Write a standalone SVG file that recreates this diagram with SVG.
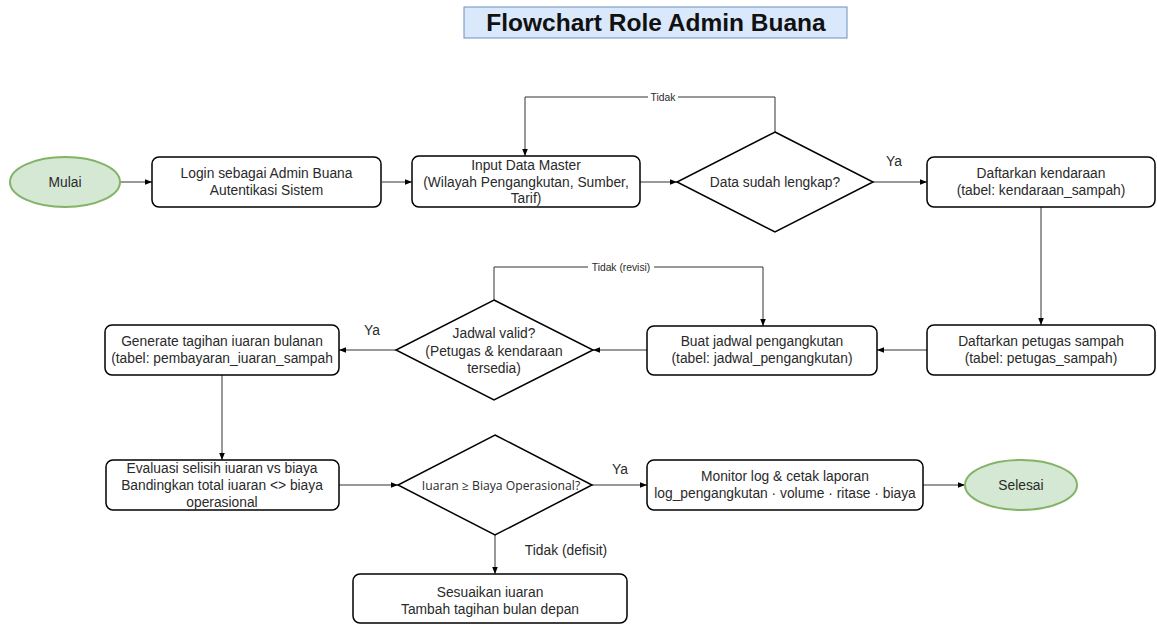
<svg xmlns="http://www.w3.org/2000/svg" width="1157" height="625" viewBox="0 0 1157 625">
<defs>
<style>
.box{fill:#fff;stroke:#000;stroke-width:1.5}
.term{fill:#d5e8d4;stroke:#82b366;stroke-width:2}
.dia{fill:#fff;stroke:#000;stroke-width:1.5}
.t{font-family:"Liberation Sans",Arial,sans-serif;font-size:13.8px;fill:#2a2a2a;text-anchor:middle}
.s{font-family:"Liberation Sans",Arial,sans-serif;font-size:10.3px;fill:#2a2a2a;text-anchor:middle}
.o{font-family:"Open Sans","Noto Sans",sans-serif;font-size:12.2px;fill:#2a2a2a;text-anchor:middle}
.c{fill:none;stroke:#333;stroke-width:1}
.lbl{fill:#fff}
</style>
<marker id="arr" viewBox="0 0 10 10" refX="10" refY="5" markerWidth="7" markerHeight="7" orient="auto" markerUnits="userSpaceOnUse">
<path d="M0,1 L10,5 L0,9 Z" fill="#000"/>
</marker>
</defs>
<rect width="1157" height="625" fill="#fff"/>
<g id="title">
<rect x="464" y="7" width="383" height="31" fill="#dae8fc" stroke="#6c8ebf" stroke-width="1"/>
<text x="656" y="31" font-family="'Liberation Sans',Arial,sans-serif" font-size="24.5" font-weight="bold" text-anchor="middle" fill="#111">Flowchart Role Admin Buana</text>
</g>
<g id="connectors">
<path class="c" d="M120,182 H152" marker-end="url(#arr)"/>
<path class="c" d="M382,182 H412" marker-end="url(#arr)"/>
<path class="c" d="M640,182 H677" marker-end="url(#arr)"/>
<path class="c" d="M775,132 V97 H525 V156" marker-end="url(#arr)"/>
<rect class="lbl" x="648" y="92" width="30" height="11"/>
<text class="s" x="663" y="101">Tidak</text>
<path class="c" d="M873,182 H927" marker-end="url(#arr)"/>
<text class="t" x="894" y="166">Ya</text>
<path class="c" d="M1041,207 V325" marker-end="url(#arr)"/>
<path class="c" d="M927,350 H877" marker-end="url(#arr)"/>
<path class="c" d="M647,350 H593" marker-end="url(#arr)"/>
<path class="c" d="M494,300 V267 H763 V326" marker-end="url(#arr)"/>
<rect class="lbl" x="588" y="262" width="66" height="11"/>
<text class="s" x="621" y="271">Tidak (revisi)</text>
<path class="c" d="M396,350 H339" marker-end="url(#arr)"/>
<text class="t" x="372" y="335">Ya</text>
<path class="c" d="M222,375 V460" marker-end="url(#arr)"/>
<path class="c" d="M339,485 H398" marker-end="url(#arr)"/>
<path class="c" d="M592,485 H647" marker-end="url(#arr)"/>
<text class="t" x="620" y="474">Ya</text>
<path class="c" d="M923,485 H965" marker-end="url(#arr)"/>
<path class="c" d="M495,535 V574" marker-end="url(#arr)"/>
<text class="t" x="566" y="555">Tidak (defisit)</text>
</g>
<g id="mulai">
<ellipse class="term" cx="65" cy="182" rx="55" ry="25"/>
<text class="t" x="65" y="187">Mulai</text>
</g>
<g id="login">
<rect class="box" x="152" y="157" width="229" height="50" rx="7"/>
<text class="t" x="266.5" y="178">Login sebagai Admin Buana</text>
<text class="t" x="266.5" y="195">Autentikasi Sistem</text>
</g>
<g id="input">
<rect class="box" x="412" y="156" width="228" height="51" rx="7"/>
<text class="t" x="526" y="169.5">Input Data Master</text>
<text class="t" x="526" y="186.5">(Wilayah Pengangkutan, Sumber,</text>
<text class="t" x="526" y="203">Tarif)</text>
</g>
<g id="cek-data">
<polygon class="dia" points="775,132 873,182 775,232 677,182"/>
<text class="t" x="775" y="187">Data sudah lengkap?</text>
</g>
<g id="kendaraan">
<rect class="box" x="927" y="157" width="228" height="50" rx="7"/>
<text class="t" x="1041" y="178">Daftarkan kendaraan</text>
<text class="t" x="1041" y="195">(tabel: kendaraan_sampah)</text>
</g>
<g id="petugas">
<rect class="box" x="927" y="325" width="228" height="50" rx="7"/>
<text class="t" x="1041" y="346">Daftarkan petugas sampah</text>
<text class="t" x="1041" y="363">(tabel: petugas_sampah)</text>
</g>
<g id="jadwal">
<rect class="box" x="647" y="326" width="230" height="49" rx="7"/>
<text class="t" x="762" y="346">Buat jadwal pengangkutan</text>
<text class="t" x="762" y="363">(tabel: jadwal_pengangkutan)</text>
</g>
<g id="cek-jadwal">
<polygon class="dia" points="494,300 593,350 494,400 396,350"/>
<text class="t" x="494" y="338">Jadwal valid?</text>
<text class="t" x="494" y="355.5">(Petugas &amp; kendaraan</text>
<text class="t" x="494" y="373">tersedia)</text>
</g>
<g id="tagihan">
<rect class="box" x="105" y="325" width="234" height="50" rx="7"/>
<text class="t" x="222" y="346">Generate tagihan iuaran bulanan</text>
<text class="t" x="222" y="363">(tabel: pembayaran_iuaran_sampah</text>
</g>
<g id="evaluasi">
<rect class="box" x="106" y="460" width="233" height="50" rx="7"/>
<text class="t" x="222" y="473">Evaluasi selisih iuaran vs biaya</text>
<text class="t" x="222" y="490">Bandingkan total iuaran &lt;&gt; biaya</text>
<text class="t" x="222" y="507">operasional</text>
</g>
<g id="cek-iuaran">
<polygon class="dia" points="495,435 592,485 495,535 398,485"/>
<text class="o" x="501" y="489.5">Iuaran ≥ Biaya Operasional?</text>
</g>
<g id="monitor">
<rect class="box" x="647" y="460" width="276" height="50" rx="7"/>
<text class="t" x="785" y="481">Monitor log &amp; cetak laporan</text>
<text class="t" x="785" y="498">log_pengangkutan  · volume · ritase · biaya</text>
</g>
<g id="selesai">
<ellipse class="term" cx="1021" cy="485" rx="56" ry="25"/>
<text class="t" x="1021" y="490">Selesai</text>
</g>
<g id="sesuaikan">
<rect class="box" x="353" y="574" width="274" height="49" rx="7"/>
<text class="t" x="490" y="597">Sesuaikan iuaran</text>
<text class="t" x="490" y="614">Tambah tagihan bulan depan</text>
</g>
</svg>
